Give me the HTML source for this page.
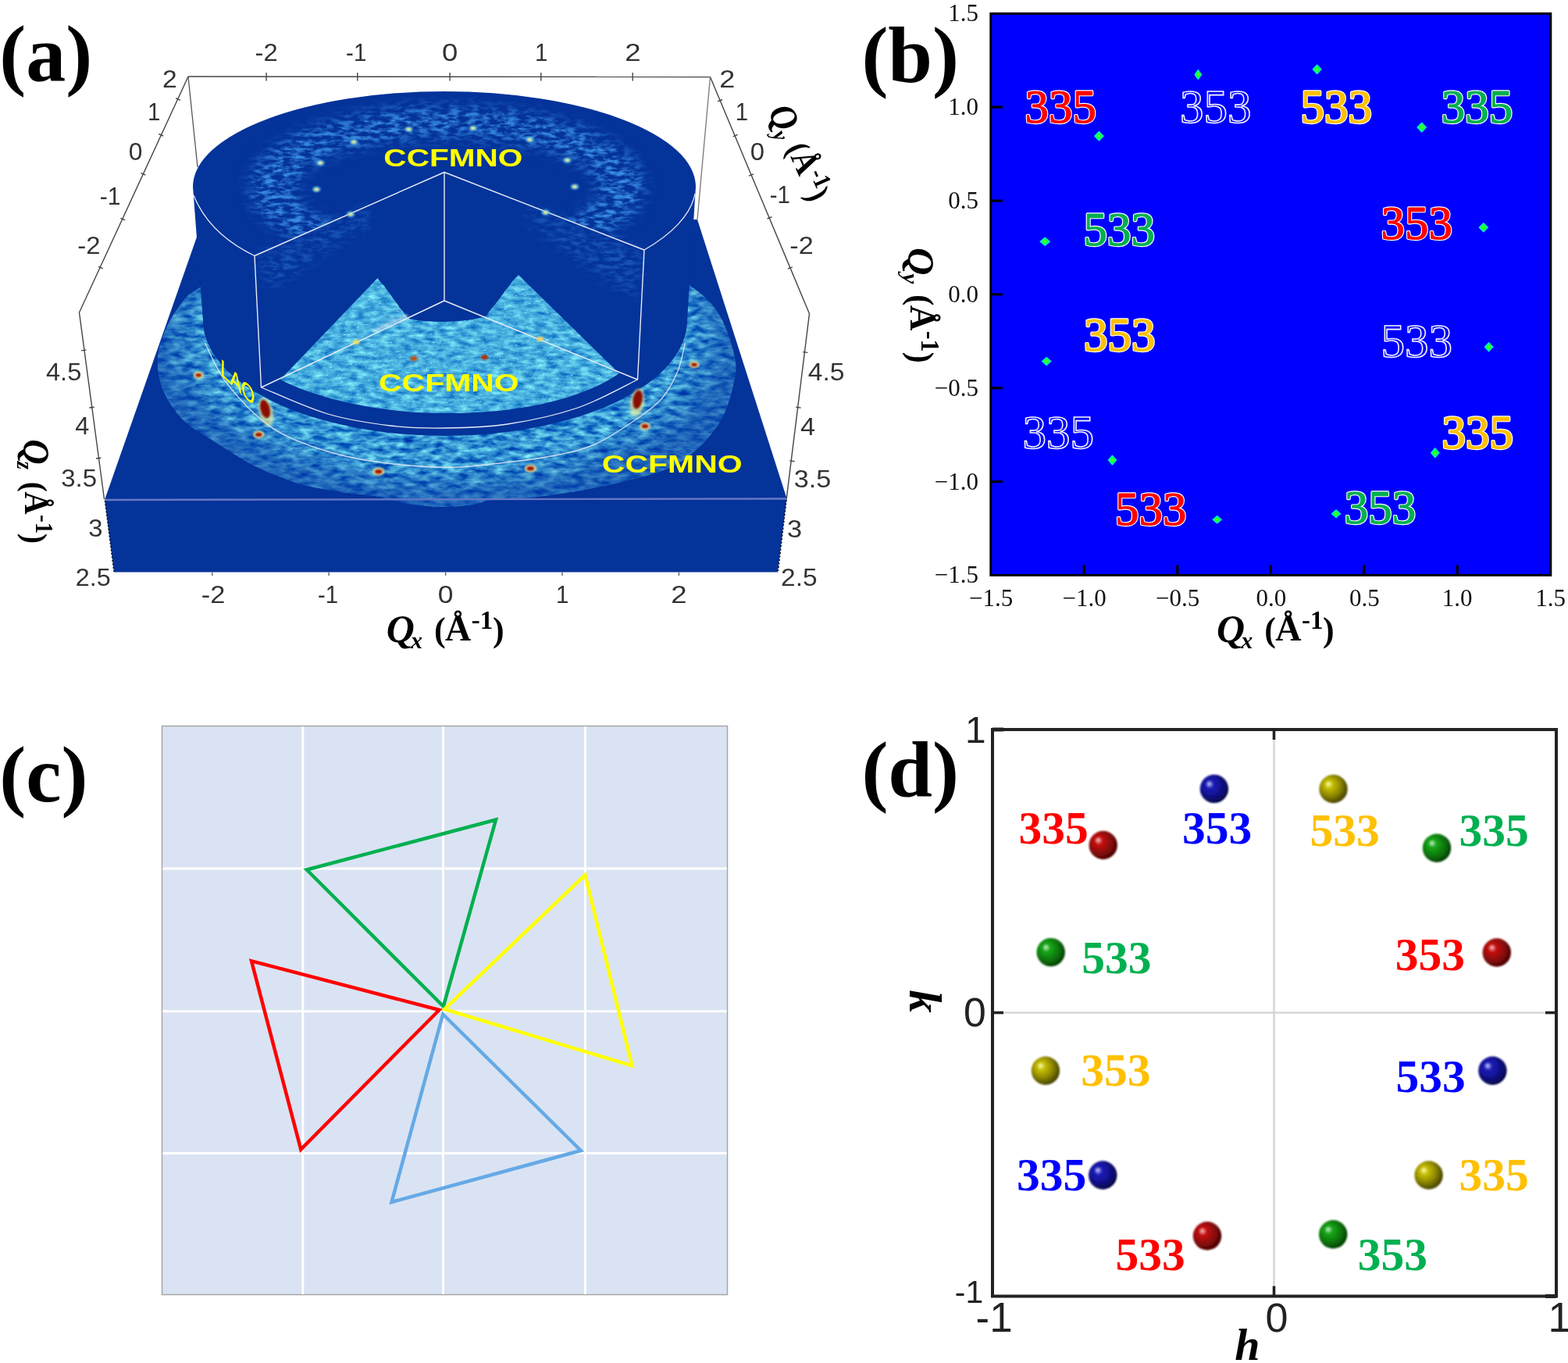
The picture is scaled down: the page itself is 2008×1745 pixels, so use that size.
<!DOCTYPE html>
<html><head><meta charset="utf-8"><title>Figure</title>
<style>html,body{margin:0;padding:0;background:#fff;overflow:hidden}svg{display:block}</style>
</head><body>
<svg width="2008" height="1745" viewBox="0 0 2008 1745">
<rect width="2008" height="1745" fill="#fff"/>
<defs>
<filter id="ringTex" filterUnits="userSpaceOnUse" x="0" y="0" width="1100" height="800" color-interpolation-filters="sRGB">
 <feTurbulence type="fractalNoise" baseFrequency="0.06 0.15" numOctaves="3" seed="7" result="n"/>
 <feColorMatrix in="n" type="matrix" values="0.9 0 0 0 -0.24  1.1 0 0 0 0.03  0.45 0 0 0 0.6  0 0 0 0 1" result="c"/>
 <feComposite in="c" in2="SourceGraphic" operator="in"/>
</filter>
<filter id="fanTex" filterUnits="userSpaceOnUse" x="0" y="0" width="1100" height="800" color-interpolation-filters="sRGB">
 <feTurbulence type="fractalNoise" baseFrequency="0.07 0.18" numOctaves="3" seed="3" result="n"/>
 <feColorMatrix in="n" type="matrix" values="0.65 0 0 0 -0.05  0.7 0 0 0 0.33  0.3 0 0 0 0.72  0 0 0 0 1" result="c"/>
 <feTurbulence type="fractalNoise" baseFrequency="0.35 0.6" numOctaves="1" seed="5" result="n2"/>
 <feColorMatrix in="n2" type="matrix" values="0 0 0 0 0.85  0 0 0 0 0.95  0 0 0 0 1  7 0 0 0 -4.75" result="w0"/><feGaussianBlur in="w0" stdDeviation="0.6" result="w"/>
 <feMerge result="m"><feMergeNode in="c"/><feMergeNode in="w"/></feMerge>
 <feComposite in="m" in2="SourceGraphic" operator="in"/>
</filter>
<filter id="topTex" filterUnits="userSpaceOnUse" x="0" y="0" width="1100" height="800" color-interpolation-filters="sRGB">
 <feTurbulence type="fractalNoise" baseFrequency="0.08 0.2" numOctaves="3" seed="11" result="n"/>
 <feColorMatrix in="n" type="matrix" values="0 0 0 0 0.22  0 0 0 0 0.55  0 0 0 0 0.88  3.0 0 0 0 -1.15" result="c"/>
 <feGaussianBlur in="SourceGraphic" stdDeviation="9" result="m"/>
 <feComposite in="c" in2="m" operator="in"/>
</filter>
<filter id="sblur" x="-50%" y="-50%" width="200%" height="200%"><feGaussianBlur stdDeviation="0.9"/></filter>
<filter id="sblur2" x="-50%" y="-50%" width="200%" height="200%"><feGaussianBlur stdDeviation="1.6"/></filter>
</defs>
<path d="M134,640 L1007.5,638 L996,732.5 L146,732.5 Z" fill="#04339a"/>
<path d="M134,640 L252.5,302 L893,281 L1007.5,638 Z" fill="#04339a"/>
<path d="M134.5,641 L146,732" stroke="#111" stroke-width="1.6" stroke-dasharray="2 2.5" fill="none"/>
<path d="M1007,640 L996.5,731" stroke="#111" stroke-width="1.6" stroke-dasharray="2 2.5" fill="none"/>
<path d="M570.0,290.0 C613.3,290.0 661.7,292.3 700.0,297.0 C738.3,301.7 769.0,306.3 800.0,318.0 C831.0,329.7 865.8,353.1 886.0,367.4 C906.2,381.6 912.1,388.4 921.3,403.5 C930.5,418.6 938.1,443.3 941.0,458.3 C943.9,473.3 941.7,480.2 938.8,493.4 C935.9,506.5 931.5,523.3 923.5,537.2 C915.5,551.1 903.4,565.7 890.6,576.7 C877.8,587.7 868.7,595.0 846.8,603.0 C824.9,611.0 788.3,619.1 759.1,624.9 C729.9,630.7 693.0,635.5 671.5,638.0 C650.0,640.5 641.1,638.7 630.0,640.0 C618.9,641.3 615.0,644.5 605.0,646.0 C595.0,647.5 582.5,649.0 570.0,649.0 C557.5,649.0 541.7,647.5 530.0,646.0 C518.3,644.5 508.3,641.8 500.0,640.0 C491.7,638.2 490.6,636.7 480.0,635.0 C469.4,633.3 453.1,632.4 436.7,629.7 C420.3,627.0 400.0,624.2 381.7,618.7 C363.4,613.2 344.5,605.6 326.7,596.7 C308.9,587.8 290.3,575.3 275.0,565.5 C259.7,555.7 246.0,549.0 235.0,538.0 C224.0,527.0 214.5,512.7 209.0,499.5 C203.5,486.3 201.3,472.2 202.0,459.0 C202.7,445.8 207.5,432.3 213.0,420.0 C218.5,407.7 227.8,393.7 235.0,385.0 C242.2,376.3 240.2,378.5 256.0,368.0 C271.8,357.5 299.3,333.8 330.0,322.0 C360.7,310.2 400.0,302.3 440.0,297.0 C480.0,291.7 526.7,290.0 570.0,290.0Z" fill="#3c9ad6" filter="url(#ringTex)"/>
<radialGradient id="ringShade" gradientUnits="userSpaceOnUse" cx="570" cy="430" r="375" gradientTransform="translate(570,430) scale(1,0.55) translate(-570,-430)"><stop offset="0.80" stop-color="#0a3ca4" stop-opacity="0"/><stop offset="1" stop-color="#0a3ca4" stop-opacity="0.55"/></radialGradient>
<path d="M570.0,290.0 C613.3,290.0 661.7,292.3 700.0,297.0 C738.3,301.7 769.0,306.3 800.0,318.0 C831.0,329.7 865.8,353.1 886.0,367.4 C906.2,381.6 912.1,388.4 921.3,403.5 C930.5,418.6 938.1,443.3 941.0,458.3 C943.9,473.3 941.7,480.2 938.8,493.4 C935.9,506.5 931.5,523.3 923.5,537.2 C915.5,551.1 903.4,565.7 890.6,576.7 C877.8,587.7 868.7,595.0 846.8,603.0 C824.9,611.0 788.3,619.1 759.1,624.9 C729.9,630.7 693.0,635.5 671.5,638.0 C650.0,640.5 641.1,638.7 630.0,640.0 C618.9,641.3 615.0,644.5 605.0,646.0 C595.0,647.5 582.5,649.0 570.0,649.0 C557.5,649.0 541.7,647.5 530.0,646.0 C518.3,644.5 508.3,641.8 500.0,640.0 C491.7,638.2 490.6,636.7 480.0,635.0 C469.4,633.3 453.1,632.4 436.7,629.7 C420.3,627.0 400.0,624.2 381.7,618.7 C363.4,613.2 344.5,605.6 326.7,596.7 C308.9,587.8 290.3,575.3 275.0,565.5 C259.7,555.7 246.0,549.0 235.0,538.0 C224.0,527.0 214.5,512.7 209.0,499.5 C203.5,486.3 201.3,472.2 202.0,459.0 C202.7,445.8 207.5,432.3 213.0,420.0 C218.5,407.7 227.8,393.7 235.0,385.0 C242.2,376.3 240.2,378.5 256.0,368.0 C271.8,357.5 299.3,333.8 330.0,322.0 C360.7,310.2 400.0,302.3 440.0,297.0 C480.0,291.7 526.7,290.0 570.0,290.0Z" fill="url(#ringShade)"/>
<path d="M247,239 A322,122 0 0 1 891,239 L880,410 A310,148 0 0 1 260,410 Z" fill="#04339a"/>
<clipPath id="topclip"><path d="M247,239 A322,122 0 0 1 891,239 A322,134 0 0 1 825,320 L569,220.5 L326,327.5 A322,134 0 0 1 247,239 Z"/></clipPath>
<g clip-path="url(#topclip)"><path d="M319,240 A253,104 0 1 1 825,240 A253,104 0 1 1 319,240 Z M378,242 A194,66 0 1 0 766,242 A194,66 0 1 0 378,242 Z" fill-rule="evenodd" fill="#fff" filter="url(#topTex)"/></g>
<path d="M328,328 L470,265 L478,282 L345,372 Z" fill="#fff" filter="url(#topTex)" opacity="0.4"/>
<path d="M823,321 L680,265 L672,282 L812,385 Z" fill="#fff" filter="url(#topTex)" opacity="0.4"/>
<path d="M359,486 L483.5,356 L488,362 L492,366 L496,372 L500,377 L504,383 L508,388 L512,394 L517,400 L522,407 C540,414 600,414 623,404 L627,398 L632,392 L637,386 L642,379 L647,372 L652,366 L657,359 L664,352 L793,478 C740,515 650,530 569,529 C490,529 410,512 359,486 Z" fill="#3c9ad6" filter="url(#fanTex)"/>
<path d="M478,424 L522,404" stroke="#e8fbff" stroke-width="5" opacity="0.55" filter="url(#sblur2)"/>
<path d="M569,220.5 L326,327.5 M569,220.5 L825,320 M569,220.5 L569,385 M326,327.5 L334.5,496 M825,320 L816.5,486 M569,385 L334.5,496 M569,385 L816.5,486" stroke="#e8ecf5" fill="none" stroke-width="1.4"/>
<path d="M248,250 C262,285 290,310 326,327.5" stroke="#e8ecf5" fill="none" stroke-width="1.3"/>
<path d="M825,320 C860,300 885,275 890,248" stroke="#e8ecf5" fill="none" stroke-width="1.3"/>
<path d="M334.5,496.0 C348.8,501.7 392.4,521.8 420.0,530.0 C447.6,538.2 475.2,542.0 500.0,545.0 C524.8,548.0 544.0,548.3 569.0,548.0 C594.0,547.7 621.5,547.3 650.0,543.0 C678.5,538.7 712.2,531.5 740.0,522.0 C767.8,512.5 803.8,492.0 816.5,486.0" stroke="#e8ecf5" fill="none" stroke-width="1.3"/>
<path d="M262.5,439.0 C267.1,447.5 276.2,472.3 290.0,490.0 C303.8,507.7 325.0,531.2 345.0,545.4 C365.0,559.6 387.5,567.4 410.0,575.0 C432.5,582.6 453.5,587.1 480.0,591.0 C506.5,594.9 544.4,598.0 569.0,598.5 C593.6,599.0 605.8,596.5 627.6,594.2 C649.4,592.0 678.1,589.0 700.0,585.0 C721.9,581.0 740.7,577.5 759.0,570.0 C777.3,562.5 795.4,549.8 810.0,540.0 C824.6,530.2 837.1,521.8 846.8,511.0 C856.5,500.2 862.9,487.1 868.0,475.0 C873.1,462.9 875.9,444.7 877.5,438.6" stroke="#e8ecf5" fill="none" stroke-width="1.4" opacity="0.85"/>
<line x1="134" y1="640" x2="1007.5" y2="638.5" stroke="#6878c4" stroke-width="2.4"/>
<ellipse cx="453" cy="181.7" rx="5.5" ry="3.8" fill="#50b8f0" opacity="0.75" filter="url(#sblur)"/>
<ellipse cx="453" cy="181.7" rx="3" ry="2" fill="#f6f090" filter="url(#sblur)"/>
<ellipse cx="410.3" cy="208.6" rx="5.5" ry="3.8" fill="#50b8f0" opacity="0.75" filter="url(#sblur)"/>
<ellipse cx="410.3" cy="208.6" rx="3" ry="2" fill="#f6f090" filter="url(#sblur)"/>
<ellipse cx="405.3" cy="242.4" rx="5.5" ry="3.8" fill="#50b8f0" opacity="0.75" filter="url(#sblur)"/>
<ellipse cx="405.3" cy="242.4" rx="3" ry="2" fill="#f6f090" filter="url(#sblur)"/>
<ellipse cx="449" cy="274.3" rx="5.5" ry="3.8" fill="#50b8f0" opacity="0.75" filter="url(#sblur)"/>
<ellipse cx="449" cy="274.3" rx="3" ry="2" fill="#f6f090" filter="url(#sblur)"/>
<ellipse cx="523.5" cy="165.5" rx="5.5" ry="3.8" fill="#50b8f0" opacity="0.75" filter="url(#sblur)"/>
<ellipse cx="523.5" cy="165.5" rx="3" ry="2" fill="#f6f090" filter="url(#sblur)"/>
<ellipse cx="605.8" cy="164" rx="5.5" ry="3.8" fill="#50b8f0" opacity="0.75" filter="url(#sblur)"/>
<ellipse cx="605.8" cy="164" rx="3" ry="2" fill="#f6f090" filter="url(#sblur)"/>
<ellipse cx="678.4" cy="178.7" rx="5.5" ry="3.8" fill="#50b8f0" opacity="0.75" filter="url(#sblur)"/>
<ellipse cx="678.4" cy="178.7" rx="3" ry="2" fill="#f6f090" filter="url(#sblur)"/>
<ellipse cx="726.5" cy="205" rx="5.5" ry="3.8" fill="#50b8f0" opacity="0.75" filter="url(#sblur)"/>
<ellipse cx="726.5" cy="205" rx="3" ry="2" fill="#f6f090" filter="url(#sblur)"/>
<ellipse cx="736" cy="239" rx="5.5" ry="3.8" fill="#50b8f0" opacity="0.75" filter="url(#sblur)"/>
<ellipse cx="736" cy="239" rx="3" ry="2" fill="#f6f090" filter="url(#sblur)"/>
<ellipse cx="698.7" cy="272" rx="5.5" ry="3.8" fill="#50b8f0" opacity="0.75" filter="url(#sblur)"/>
<ellipse cx="698.7" cy="272" rx="3" ry="2" fill="#f6f090" filter="url(#sblur)"/>
<ellipse cx="530" cy="458.9" rx="4.5" ry="3" fill="#c05010" filter="url(#sblur)"/>
<ellipse cx="620.5" cy="457.5" rx="4.5" ry="3" fill="#b03000" filter="url(#sblur)"/>
<ellipse cx="456" cy="438" rx="4.5" ry="3" fill="#f0e070" filter="url(#sblur)"/>
<ellipse cx="691.7" cy="434" rx="4.5" ry="3" fill="#f0d070" filter="url(#sblur)"/>
<ellipse cx="254.3" cy="480.3" rx="6.5" ry="4.5" fill="#f4e890" opacity="0.9" filter="url(#sblur)"/>
<ellipse cx="254.3" cy="480.3" rx="4.0" ry="2.4" fill="#a01400" filter="url(#sblur)"/>
<ellipse cx="331.3" cy="556.4" rx="7.0" ry="4.8" fill="#f4e890" opacity="0.9" filter="url(#sblur)"/>
<ellipse cx="331.3" cy="556.4" rx="4.4" ry="2.6" fill="#a01400" filter="url(#sblur)"/>
<ellipse cx="889" cy="466.9" rx="6.5" ry="4.5" fill="#f4e890" opacity="0.9" filter="url(#sblur)"/>
<ellipse cx="889" cy="466.9" rx="4.0" ry="2.4" fill="#a01400" filter="url(#sblur)"/>
<ellipse cx="826" cy="545.7" rx="7.0" ry="4.8" fill="#f4e890" opacity="0.9" filter="url(#sblur)"/>
<ellipse cx="826" cy="545.7" rx="4.4" ry="2.6" fill="#a01400" filter="url(#sblur)"/>
<ellipse cx="484.8" cy="603.7" rx="7.5" ry="5.0" fill="#f4e890" opacity="0.9" filter="url(#sblur)"/>
<ellipse cx="484.8" cy="603.7" rx="4.8" ry="2.8" fill="#a01400" filter="url(#sblur)"/>
<ellipse cx="679.3" cy="599.8" rx="7.5" ry="5.0" fill="#f4e890" opacity="0.9" filter="url(#sblur)"/>
<ellipse cx="679.3" cy="599.8" rx="4.8" ry="2.8" fill="#a01400" filter="url(#sblur)"/>
<ellipse cx="339.5" cy="527.4" rx="9" ry="18" transform="rotate(-15 339.5 523.4)" fill="#e8f0a0" opacity="0.7" filter="url(#sblur2)"/>
<ellipse cx="339.5" cy="523.4" rx="6" ry="12" transform="rotate(-15 339.5 523.4)" fill="#8a0a00" filter="url(#sblur)"/>
<ellipse cx="816.6" cy="515.6" rx="9" ry="18" transform="rotate(10 816.6 511.6)" fill="#e8f0a0" opacity="0.7" filter="url(#sblur2)"/>
<ellipse cx="816.6" cy="511.6" rx="6" ry="12" transform="rotate(10 816.6 511.6)" fill="#8a0a00" filter="url(#sblur)"/>
<text transform="translate(493.0,212.7) scale(1.264,1)" x="-1.3" y="0" font-family='"Liberation Sans", Arial, sans-serif' font-size="32.1" font-weight="bold" fill="#ffff00">CCFMNO</text>
<text transform="translate(486.7,500.7) scale(1.276,1)" x="-1.3" y="0" font-family='"Liberation Sans", Arial, sans-serif' font-size="32.1" font-weight="bold" fill="#ffff00">CCFMNO</text>
<text transform="translate(772.5,605.0) scale(1.302,1)" x="-1.3" y="0" font-family='"Liberation Sans", Arial, sans-serif' font-size="31.5" font-weight="bold" fill="#ffff00">CCFMNO</text>
<text transform="matrix(0.73,0.686,0,1,282.5,479.5)" x="0" y="0" font-family='"Liberation Sans", Arial, sans-serif' font-size="30" fill="#ffff00" stroke="#ffff00" stroke-width="0.4">LAO</text>
<path d="M241,98 L909.5,98.5" stroke="#444" stroke-width="1.4" fill="none"/>
<path d="M241,98 L101.5,400 L133.5,639" stroke="#444" stroke-width="1.4" fill="none"/>
<path d="M909.5,98.5 L1036.5,401.5 L1007.2,638.3" stroke="#444" stroke-width="1.4" fill="none"/>
<path d="M241,98 L253,214" stroke="#555" stroke-width="1.3" fill="none"/>
<path d="M909.5,98.5 L893,281" stroke="#777" stroke-width="1.3" fill="none"/>
<line x1="341.1" y1="93" x2="341.1" y2="103.5" stroke="#444" stroke-width="1.4" fill="none"/>
<line x1="457.8" y1="93" x2="457.8" y2="103.5" stroke="#444" stroke-width="1.4" fill="none"/>
<line x1="576.1" y1="93" x2="576.1" y2="103.5" stroke="#444" stroke-width="1.4" fill="none"/>
<line x1="692.8" y1="93" x2="692.8" y2="103.5" stroke="#444" stroke-width="1.4" fill="none"/>
<line x1="810.2" y1="93" x2="810.2" y2="103.5" stroke="#444" stroke-width="1.4" fill="none"/>
<line x1="230.9" y1="128.3" x2="225.1" y2="125.7" stroke="#444" stroke-width="1.4" fill="none"/>
<line x1="209.2" y1="174.1" x2="203.4" y2="171.5" stroke="#444" stroke-width="1.4" fill="none"/>
<line x1="186.3" y1="224.2" x2="180.5" y2="221.6" stroke="#444" stroke-width="1.4" fill="none"/>
<line x1="160.2" y1="281.9" x2="154.4" y2="279.3" stroke="#444" stroke-width="1.4" fill="none"/>
<line x1="131.9" y1="343.9" x2="126.1" y2="341.3" stroke="#444" stroke-width="1.4" fill="none"/>
<line x1="110.4" y1="448.1" x2="104.0" y2="448.9" stroke="#444" stroke-width="1.4" fill="none"/>
<line x1="120.7" y1="521.2" x2="114.3" y2="522.0" stroke="#444" stroke-width="1.4" fill="none"/>
<line x1="129.4" y1="586.2" x2="123.0" y2="587.0" stroke="#444" stroke-width="1.4" fill="none"/>
<line x1="925.0" y1="127.5" x2="919.0" y2="129.9" stroke="#444" stroke-width="1.4" fill="none"/>
<line x1="944.7" y1="172.4" x2="938.7" y2="174.8" stroke="#444" stroke-width="1.4" fill="none"/>
<line x1="965.0" y1="222.8" x2="959.0" y2="225.2" stroke="#444" stroke-width="1.4" fill="none"/>
<line x1="988.5" y1="277.6" x2="982.5" y2="280.0" stroke="#444" stroke-width="1.4" fill="none"/>
<line x1="1014.8" y1="341.8" x2="1008.8" y2="344.2" stroke="#444" stroke-width="1.4" fill="none"/>
<line x1="1034.4" y1="451.4" x2="1028.0" y2="450.6" stroke="#444" stroke-width="1.4" fill="none"/>
<line x1="1025.7" y1="522.1" x2="1019.3" y2="521.3" stroke="#444" stroke-width="1.4" fill="none"/>
<line x1="1017.6" y1="590.7" x2="1011.2" y2="589.9" stroke="#444" stroke-width="1.4" fill="none"/>
<line x1="271.8" y1="732.5" x2="271.8" y2="737" stroke="#666" stroke-width="1.4"/>
<line x1="421.2" y1="732.5" x2="421.2" y2="737" stroke="#666" stroke-width="1.4"/>
<line x1="570.6" y1="732.5" x2="570.6" y2="737" stroke="#666" stroke-width="1.4"/>
<line x1="720" y1="732.5" x2="720" y2="737" stroke="#666" stroke-width="1.4"/>
<line x1="869.4" y1="732.5" x2="869.4" y2="737" stroke="#666" stroke-width="1.4"/>
<text transform="translate(341.0,77.8) scale(1.056,1)" x="-13.7" y="0" font-family='"Liberation Sans", Arial, sans-serif' font-size="31" fill="#333">-2</text>
<text transform="translate(456.1,77.8) scale(0.950,1)" x="-13.7" y="0" font-family='"Liberation Sans", Arial, sans-serif' font-size="31" fill="#333">-1</text>
<text transform="translate(576.1,77.5) scale(1.180,1)" x="-8.6" y="0" font-family='"Liberation Sans", Arial, sans-serif' font-size="31" fill="#333">0</text>
<text transform="translate(693.6,77.8) scale(0.950,1)" x="-9.0" y="0" font-family='"Liberation Sans", Arial, sans-serif' font-size="31" fill="#333">1</text>
<text transform="translate(810.3,77.8) scale(1.180,1)" x="-8.6" y="0" font-family='"Liberation Sans", Arial, sans-serif' font-size="31" fill="#333">2</text>
<text transform="translate(217.2,112.0) scale(1.083,1)" x="-8.6" y="0" font-family='"Liberation Sans", Arial, sans-serif' font-size="31" fill="#333">2</text>
<text transform="translate(197.5,154.3) scale(0.950,1)" x="-9.0" y="0" font-family='"Liberation Sans", Arial, sans-serif' font-size="31" fill="#333">1</text>
<text transform="translate(173.6,205.2) scale(1.026,1)" x="-8.6" y="0" font-family='"Liberation Sans", Arial, sans-serif' font-size="31" fill="#333">0</text>
<text transform="translate(141.0,262.0) scale(0.973,1)" x="-13.7" y="0" font-family='"Liberation Sans", Arial, sans-serif' font-size="31" fill="#333">-1</text>
<text transform="translate(113.8,325.0) scale(1.060,1)" x="-13.7" y="0" font-family='"Liberation Sans", Arial, sans-serif' font-size="31" fill="#333">-2</text>
<text transform="translate(931.2,112.3) scale(1.161,1)" x="-8.6" y="0" font-family='"Liberation Sans", Arial, sans-serif' font-size="31" fill="#333">2</text>
<text transform="translate(950.4,154.0) scale(0.950,1)" x="-9.0" y="0" font-family='"Liberation Sans", Arial, sans-serif' font-size="31" fill="#333">1</text>
<text transform="translate(969.9,204.5) scale(1.059,1)" x="-8.6" y="0" font-family='"Liberation Sans", Arial, sans-serif' font-size="31" fill="#333">0</text>
<text transform="translate(998.8,260.3) scale(0.950,1)" x="-13.7" y="0" font-family='"Liberation Sans", Arial, sans-serif' font-size="31" fill="#333">-1</text>
<text transform="translate(1026.4,324.6) scale(1.104,1)" x="-13.7" y="0" font-family='"Liberation Sans", Arial, sans-serif' font-size="31" fill="#333">-2</text>
<text transform="translate(81.4,487.3) scale(1.052,1)" x="-21.3" y="0" font-family='"Liberation Sans", Arial, sans-serif' font-size="31" fill="#333">4.5</text>
<text transform="translate(105.2,555.7) scale(1.050,1)" x="-8.5" y="0" font-family='"Liberation Sans", Arial, sans-serif' font-size="31" fill="#333">4</text>
<text transform="translate(101.1,623.4) scale(1.066,1)" x="-21.5" y="0" font-family='"Liberation Sans", Arial, sans-serif' font-size="31" fill="#333">3.5</text>
<text transform="translate(122.2,687.3) scale(1.061,1)" x="-8.5" y="0" font-family='"Liberation Sans", Arial, sans-serif' font-size="31" fill="#333">3</text>
<text transform="translate(119.5,750.2) scale(1.044,1)" x="-21.7" y="0" font-family='"Liberation Sans", Arial, sans-serif' font-size="31" fill="#333">2.5</text>
<text transform="translate(1057.8,486.7) scale(1.088,1)" x="-21.3" y="0" font-family='"Liberation Sans", Arial, sans-serif' font-size="31" fill="#333">4.5</text>
<text transform="translate(1034.3,556.6) scale(1.107,1)" x="-8.5" y="0" font-family='"Liberation Sans", Arial, sans-serif' font-size="31" fill="#333">4</text>
<text transform="translate(1040.4,623.7) scale(1.103,1)" x="-21.5" y="0" font-family='"Liberation Sans", Arial, sans-serif' font-size="31" fill="#333">3.5</text>
<text transform="translate(1017.5,688.0) scale(1.109,1)" x="-8.5" y="0" font-family='"Liberation Sans", Arial, sans-serif' font-size="31" fill="#333">3</text>
<text transform="translate(1023.5,750.1) scale(1.081,1)" x="-21.7" y="0" font-family='"Liberation Sans", Arial, sans-serif' font-size="31" fill="#333">2.5</text>
<text transform="translate(273.0,772.2) scale(1.109,1)" x="-13.7" y="0" font-family='"Liberation Sans", Arial, sans-serif' font-size="31" fill="#333">-2</text>
<text transform="translate(420.0,772.2) scale(0.950,1)" x="-13.7" y="0" font-family='"Liberation Sans", Arial, sans-serif' font-size="31" fill="#333">-1</text>
<text transform="translate(570.5,771.9) scale(1.147,1)" x="-8.6" y="0" font-family='"Liberation Sans", Arial, sans-serif' font-size="31" fill="#333">0</text>
<text transform="translate(720.5,772.2) scale(0.950,1)" x="-9.0" y="0" font-family='"Liberation Sans", Arial, sans-serif' font-size="31" fill="#333">1</text>
<text transform="translate(869.5,772.2) scale(1.180,1)" x="-8.6" y="0" font-family='"Liberation Sans", Arial, sans-serif' font-size="31" fill="#333">2</text>
<g transform="translate(496.6,789.3) rotate(0) scale(1,1) translate(-496.6,-789.3)"><text x="494.8" y="822.4" font-family='"Liberation Serif", "Times New Roman", serif' font-size="50" font-weight="bold" font-style="italic" fill="#000" >Q</text><text x="526.1" y="830" font-family='"Liberation Serif", "Times New Roman", serif' font-size="30" font-weight="bold" font-style="italic">x</text><text x="556.1" y="820.5" font-family='"Liberation Serif", "Times New Roman", serif' font-size="44" font-weight="bold" fill="#000" >(</text><text x="570.1" y="819.7" font-family='"Liberation Serif", "Times New Roman", serif' font-size="46" font-weight="bold" fill="#000" >Å</text><text x="603.8" y="805.2" font-family='"Liberation Serif", "Times New Roman", serif' font-size="33" font-weight="bold" fill="#000" >-1</text><text x="630.9" y="820.5" font-family='"Liberation Serif", "Times New Roman", serif' font-size="44" font-weight="bold" fill="#000" >)</text></g>
<g transform="translate(61.4,564.2) rotate(90) scale(0.885,0.96) translate(-496.6,-789.3)"><text x="494.8" y="822.4" font-family='"Liberation Serif", "Times New Roman", serif' font-size="50" font-weight="bold" font-style="italic" fill="#000" >Q</text><text x="526.5" y="830" font-family='"Liberation Serif", "Times New Roman", serif' font-size="30" font-weight="bold" font-style="italic">z</text><text x="556.1" y="820.5" font-family='"Liberation Serif", "Times New Roman", serif' font-size="44" font-weight="bold" fill="#000" >(</text><text x="570.1" y="819.7" font-family='"Liberation Serif", "Times New Roman", serif' font-size="46" font-weight="bold" fill="#000" >Å</text><text x="603.8" y="805.2" font-family='"Liberation Serif", "Times New Roman", serif' font-size="33" font-weight="bold" fill="#000" >-1</text><text x="630.9" y="820.5" font-family='"Liberation Serif", "Times New Roman", serif' font-size="44" font-weight="bold" fill="#000" >)</text></g>
<g transform="translate(1013.0,131.0) rotate(66) scale(0.86,0.96) translate(-496.6,-789.3)"><text x="494.8" y="822.4" font-family='"Liberation Serif", "Times New Roman", serif' font-size="50" font-weight="bold" font-style="italic" fill="#000" >Q</text><text x="528.7" y="830" font-family='"Liberation Serif", "Times New Roman", serif' font-size="30" font-weight="bold" font-style="italic">y</text><text x="556.1" y="820.5" font-family='"Liberation Serif", "Times New Roman", serif' font-size="44" font-weight="bold" fill="#000" >(</text><text x="570.1" y="819.7" font-family='"Liberation Serif", "Times New Roman", serif' font-size="46" font-weight="bold" fill="#000" >Å</text><text x="603.8" y="805.2" font-family='"Liberation Serif", "Times New Roman", serif' font-size="33" font-weight="bold" fill="#000" >-1</text><text x="630.9" y="820.5" font-family='"Liberation Serif", "Times New Roman", serif' font-size="44" font-weight="bold" fill="#000" >)</text></g>
<text x="-0.7" y="103.3" font-family='"Liberation Serif", "Times New Roman", serif' font-size="102" font-weight="bold" fill="#000" >(a)</text>
<defs><radialGradient id="dg" cx="50%" cy="50%" r="50%"><stop offset="0" stop-color="#80ff00"/><stop offset="0.3" stop-color="#20ff28"/><stop offset="0.6" stop-color="#00ff90"/><stop offset="0.85" stop-color="#00e8f0"/><stop offset="1" stop-color="#00a8ff"/></radialGradient><filter id="dblur" x="-50%" y="-50%" width="200%" height="200%"><feGaussianBlur stdDeviation="0.7"/></filter></defs>
<rect x="1268.8" y="17.4" width="717.0" height="719.0" fill="#0000ff"/>
<path d="M1400.9,174.2 L1407.4,167.4 L1413.9,174.2 L1407.4,181.0Z" fill="url(#dg)" filter="url(#dblur)"/>
<path d="M1529.3,95.5 L1534.3,88.5 L1539.3,95.5 L1534.3,102.5Z" fill="url(#dg)" filter="url(#dblur)"/>
<path d="M1680.3,88.8 L1686.6,82.2 L1692.9,88.8 L1686.6,95.4Z" fill="url(#dg)" filter="url(#dblur)"/>
<path d="M1814.2,163.1 L1820.7,156.3 L1827.2,163.1 L1820.7,169.9Z" fill="url(#dg)" filter="url(#dblur)"/>
<path d="M1331.2,309.2 L1338.2,303.2 L1345.2,309.2 L1338.2,315.2Z" fill="url(#dg)" filter="url(#dblur)"/>
<path d="M1893.3,291.2 L1899.8,284.7 L1906.3,291.2 L1899.8,297.7Z" fill="url(#dg)" filter="url(#dblur)"/>
<path d="M1333.7,462.6 L1340.2,456.8 L1346.7,462.6 L1340.2,468.4Z" fill="url(#dg)" filter="url(#dblur)"/>
<path d="M1900.6,444.2 L1906.6,437.7 L1912.6,444.2 L1906.6,450.7Z" fill="url(#dg)" filter="url(#dblur)"/>
<path d="M1418.5,589.1 L1424.5,582.3 L1430.5,589.1 L1424.5,595.9Z" fill="url(#dg)" filter="url(#dblur)"/>
<path d="M1831.8,579.8 L1837.8,572.8 L1843.8,579.8 L1837.8,586.8Z" fill="url(#dg)" filter="url(#dblur)"/>
<path d="M1552.2,665.3 L1558.7,659.8 L1565.2,665.3 L1558.7,670.8Z" fill="url(#dg)" filter="url(#dblur)"/>
<path d="M1704.5,657.8 L1711.0,652.0 L1717.5,657.8 L1711.0,663.6Z" fill="url(#dg)" filter="url(#dblur)"/>
<text x="1312.4" y="156.9" font-family='"Liberation Serif", "Times New Roman", serif' font-size="61" fill="#fff" stroke="#fff" stroke-width="3.4" stroke-linejoin="round">335</text>
<text x="1312.4" y="156.9" font-family='"Liberation Serif", "Times New Roman", serif' font-size="61" fill="#ff0000" stroke="#ff0000" stroke-width="1.1" stroke-linejoin="round">335</text>
<text x="1510.9" y="157.1" font-family='"Liberation Serif", "Times New Roman", serif' font-size="61" fill="#0000ff" stroke="#f4f4ff" stroke-width="1.6">353</text>
<text x="1665.6" y="156.8" font-family='"Liberation Serif", "Times New Roman", serif' font-size="61" fill="#fff" stroke="#fff" stroke-width="3.4" stroke-linejoin="round">533</text>
<text x="1665.6" y="156.8" font-family='"Liberation Serif", "Times New Roman", serif' font-size="61" fill="#ffc000" stroke="#ffc000" stroke-width="1.1" stroke-linejoin="round">533</text>
<text x="1845.8" y="156.8" font-family='"Liberation Serif", "Times New Roman", serif' font-size="61" fill="#fff" stroke="#fff" stroke-width="3.4" stroke-linejoin="round">335</text>
<text x="1845.8" y="156.8" font-family='"Liberation Serif", "Times New Roman", serif' font-size="61" fill="#00b050" stroke="#00b050" stroke-width="1.1" stroke-linejoin="round">335</text>
<text x="1387.4" y="314.1" font-family='"Liberation Serif", "Times New Roman", serif' font-size="61" fill="#fff" stroke="#fff" stroke-width="3.4" stroke-linejoin="round">533</text>
<text x="1387.4" y="314.1" font-family='"Liberation Serif", "Times New Roman", serif' font-size="61" fill="#00b050" stroke="#00b050" stroke-width="1.1" stroke-linejoin="round">533</text>
<text x="1768.5" y="306.4" font-family='"Liberation Serif", "Times New Roman", serif' font-size="61" fill="#fff" stroke="#fff" stroke-width="3.4" stroke-linejoin="round">353</text>
<text x="1768.5" y="306.4" font-family='"Liberation Serif", "Times New Roman", serif' font-size="61" fill="#ff0000" stroke="#ff0000" stroke-width="1.1" stroke-linejoin="round">353</text>
<text x="1388.0" y="448.6" font-family='"Liberation Serif", "Times New Roman", serif' font-size="61" fill="#fff" stroke="#fff" stroke-width="3.4" stroke-linejoin="round">353</text>
<text x="1388.0" y="448.6" font-family='"Liberation Serif", "Times New Roman", serif' font-size="61" fill="#ffc000" stroke="#ffc000" stroke-width="1.1" stroke-linejoin="round">353</text>
<text x="1768.6" y="456.8" font-family='"Liberation Serif", "Times New Roman", serif' font-size="61" fill="#0000ff" stroke="#f4f4ff" stroke-width="1.6">533</text>
<text x="1309.4" y="573.9" font-family='"Liberation Serif", "Times New Roman", serif' font-size="61" fill="#0000ff" stroke="#f4f4ff" stroke-width="1.6">335</text>
<text x="1846.4" y="574.1" font-family='"Liberation Serif", "Times New Roman", serif' font-size="61" fill="#fff" stroke="#fff" stroke-width="3.4" stroke-linejoin="round">335</text>
<text x="1846.4" y="574.1" font-family='"Liberation Serif", "Times New Roman", serif' font-size="61" fill="#ffc000" stroke="#ffc000" stroke-width="1.1" stroke-linejoin="round">335</text>
<text x="1428.0" y="671.8" font-family='"Liberation Serif", "Times New Roman", serif' font-size="61" fill="#fff" stroke="#fff" stroke-width="3.4" stroke-linejoin="round">533</text>
<text x="1428.0" y="671.8" font-family='"Liberation Serif", "Times New Roman", serif' font-size="61" fill="#ff0000" stroke="#ff0000" stroke-width="1.1" stroke-linejoin="round">533</text>
<text x="1721.8" y="670.4" font-family='"Liberation Serif", "Times New Roman", serif' font-size="61" fill="#fff" stroke="#fff" stroke-width="3.4" stroke-linejoin="round">353</text>
<text x="1721.8" y="670.4" font-family='"Liberation Serif", "Times New Roman", serif' font-size="61" fill="#00b050" stroke="#00b050" stroke-width="1.1" stroke-linejoin="round">353</text>
<rect x="1268.8" y="17.4" width="717.0" height="719.0" fill="none" stroke="#000" stroke-width="3"/>
<line x1="1268.8" y1="616.6" x2="1283.8" y2="616.6" stroke="#000" stroke-width="3.2"/>
<line x1="1388.3" y1="736.4" x2="1388.3" y2="723.4" stroke="#000" stroke-width="3.2"/>
<line x1="1268.8" y1="496.7" x2="1283.8" y2="496.7" stroke="#000" stroke-width="3.2"/>
<line x1="1507.8" y1="736.4" x2="1507.8" y2="723.4" stroke="#000" stroke-width="3.2"/>
<line x1="1268.8" y1="376.9" x2="1283.8" y2="376.9" stroke="#000" stroke-width="3.2"/>
<line x1="1627.3" y1="736.4" x2="1627.3" y2="723.4" stroke="#000" stroke-width="3.2"/>
<line x1="1268.8" y1="257.1" x2="1283.8" y2="257.1" stroke="#000" stroke-width="3.2"/>
<line x1="1746.8" y1="736.4" x2="1746.8" y2="723.4" stroke="#000" stroke-width="3.2"/>
<line x1="1268.8" y1="137.2" x2="1283.8" y2="137.2" stroke="#000" stroke-width="3.2"/>
<line x1="1866.3" y1="736.4" x2="1866.3" y2="723.4" stroke="#000" stroke-width="3.2"/>
<text x="1196.8" y="746.3" font-family='"Liberation Serif", "Times New Roman", serif' font-size="31" fill="#111" >−1.5</text>
<text x="1241.0" y="776.3" font-family='"Liberation Serif", "Times New Roman", serif' font-size="31" fill="#111" >−1.5</text>
<text x="1196.7" y="626.6" font-family='"Liberation Serif", "Times New Roman", serif' font-size="31" fill="#111" >−1.0</text>
<text x="1360.5" y="776.4" font-family='"Liberation Serif", "Times New Roman", serif' font-size="31" fill="#111" >−1.0</text>
<text x="1196.8" y="506.7" font-family='"Liberation Serif", "Times New Roman", serif' font-size="31" fill="#111" >−0.5</text>
<text x="1480.0" y="776.4" font-family='"Liberation Serif", "Times New Roman", serif' font-size="31" fill="#111" >−0.5</text>
<text x="1214.2" y="386.9" font-family='"Liberation Serif", "Times New Roman", serif' font-size="31" fill="#111" >0.0</text>
<text x="1608.4" y="776.4" font-family='"Liberation Serif", "Times New Roman", serif' font-size="31" fill="#111" >0.0</text>
<text x="1214.3" y="267.1" font-family='"Liberation Serif", "Times New Roman", serif' font-size="31" fill="#111" >0.5</text>
<text x="1727.9" y="776.4" font-family='"Liberation Serif", "Times New Roman", serif' font-size="31" fill="#111" >0.5</text>
<text x="1214.2" y="147.2" font-family='"Liberation Serif", "Times New Roman", serif' font-size="31" fill="#111" >1.0</text>
<text x="1846.7" y="776.4" font-family='"Liberation Serif", "Times New Roman", serif' font-size="31" fill="#111" >1.0</text>
<text x="1214.3" y="27.3" font-family='"Liberation Serif", "Times New Roman", serif' font-size="31" fill="#111" >1.5</text>
<text x="1966.2" y="776.3" font-family='"Liberation Serif", "Times New Roman", serif' font-size="31" fill="#111" >1.5</text>
<text x="1103.4" y="105.1" font-family='"Liberation Serif", "Times New Roman", serif' font-size="102" font-weight="bold" fill="#000" >(b)</text>
<g transform="translate(1559.8,789.4) rotate(0) scale(1,1) translate(-496.6,-789.3)"><text x="494.8" y="822.4" font-family='"Liberation Serif", "Times New Roman", serif' font-size="50" font-weight="bold" font-style="italic" fill="#000" >Q</text><text x="526.1" y="830" font-family='"Liberation Serif", "Times New Roman", serif' font-size="30" font-weight="bold" font-style="italic">x</text><text x="556.1" y="820.5" font-family='"Liberation Serif", "Times New Roman", serif' font-size="44" font-weight="bold" fill="#000" >(</text><text x="570.1" y="819.7" font-family='"Liberation Serif", "Times New Roman", serif' font-size="46" font-weight="bold" fill="#000" >Å</text><text x="603.8" y="805.2" font-family='"Liberation Serif", "Times New Roman", serif' font-size="33" font-weight="bold" fill="#000" >-1</text><text x="630.9" y="820.5" font-family='"Liberation Serif", "Times New Roman", serif' font-size="44" font-weight="bold" fill="#000" >)</text></g>
<g transform="translate(1196.0,318.8) rotate(90) scale(0.98,0.99) translate(-496.6,-789.3)"><text x="494.8" y="822.4" font-family='"Liberation Serif", "Times New Roman", serif' font-size="50" font-weight="bold" font-style="italic" fill="#000" >Q</text><text x="528.7" y="830" font-family='"Liberation Serif", "Times New Roman", serif' font-size="30" font-weight="bold" font-style="italic">y</text><text x="556.1" y="820.5" font-family='"Liberation Serif", "Times New Roman", serif' font-size="44" font-weight="bold" fill="#000" >(</text><text x="570.1" y="819.7" font-family='"Liberation Serif", "Times New Roman", serif' font-size="46" font-weight="bold" fill="#000" >Å</text><text x="603.8" y="805.2" font-family='"Liberation Serif", "Times New Roman", serif' font-size="33" font-weight="bold" fill="#000" >-1</text><text x="630.9" y="820.5" font-family='"Liberation Serif", "Times New Roman", serif' font-size="44" font-weight="bold" fill="#000" >)</text></g>
<g id="pc">
<rect x="207.5" y="929.5" width="724" height="728" fill="#dae3f3" stroke="#a6a6a6" stroke-width="1.5"/>
<line x1="387.8" y1="930.3" x2="387.8" y2="1657" stroke="#fff" stroke-width="3"/>
<line x1="567.5" y1="930.3" x2="567.5" y2="1657" stroke="#fff" stroke-width="3"/>
<line x1="749.5" y1="930.3" x2="749.5" y2="1657" stroke="#fff" stroke-width="3"/>
<line x1="208.3" y1="1112.1" x2="930.7" y2="1112.1" stroke="#fff" stroke-width="3"/>
<line x1="208.3" y1="1294.7" x2="930.7" y2="1294.7" stroke="#fff" stroke-width="3"/>
<line x1="208.3" y1="1476.6" x2="930.7" y2="1476.6" stroke="#fff" stroke-width="3"/>
<path d="M635.0,1049.5 L392.8,1113.5 L567.8,1288.5Z" fill="none" stroke="#00b050" stroke-width="4.5" stroke-linejoin="miter" stroke-miterlimit="10"/>
<path d="M749.3,1120.0 L809.5,1364.5 L569.2,1292.0Z" fill="none" stroke="#ffff00" stroke-width="4.5" stroke-linejoin="miter" stroke-miterlimit="10"/>
<path d="M322.0,1230.3 L385.3,1471.5 L562.5,1293.0Z" fill="none" stroke="#ff0000" stroke-width="4.5" stroke-linejoin="miter" stroke-miterlimit="10"/>
<path d="M501.5,1539.0 L743.8,1473.0 L567.2,1298.5Z" fill="none" stroke="#64a9e6" stroke-width="4.5" stroke-linejoin="miter" stroke-miterlimit="10"/>
</g>
<text x="-0.7" y="1025.8" font-family='"Liberation Serif", "Times New Roman", serif' font-size="102" font-weight="bold" fill="#000" >(c)</text>
<defs><radialGradient id="spr" cx="0.42" cy="0.42" r="0.62" fx="0.32" fy="0.32"><stop offset="0" stop-color="#f6caca"/><stop offset="0.22" stop-color="#c81010"/><stop offset="0.62" stop-color="#8a0c0c"/><stop offset="1" stop-color="#420000"/></radialGradient><radialGradient id="spb" cx="0.42" cy="0.42" r="0.62" fx="0.32" fy="0.32"><stop offset="0" stop-color="#d0d0ff"/><stop offset="0.22" stop-color="#1c1cb8"/><stop offset="0.62" stop-color="#10108a"/><stop offset="1" stop-color="#02023c"/></radialGradient><radialGradient id="spg" cx="0.42" cy="0.42" r="0.62" fx="0.32" fy="0.32"><stop offset="0" stop-color="#d0f5d0"/><stop offset="0.22" stop-color="#18a818"/><stop offset="0.62" stop-color="#0c780c"/><stop offset="1" stop-color="#023a02"/></radialGradient><radialGradient id="spy" cx="0.42" cy="0.42" r="0.62" fx="0.32" fy="0.32"><stop offset="0" stop-color="#ffffc0"/><stop offset="0.22" stop-color="#c8c000"/><stop offset="0.62" stop-color="#8a8400"/><stop offset="1" stop-color="#3c3a00"/></radialGradient><filter id="spblur" x="-20%" y="-20%" width="140%" height="140%"><feGaussianBlur stdDeviation="0.9"/></filter></defs>
<line x1="1631.5" y1="934.0" x2="1631.5" y2="1659.5" stroke="#d6d6d6" stroke-width="2.6"/>
<line x1="1271.0" y1="1296.5" x2="1993.0" y2="1296.5" stroke="#d6d6d6" stroke-width="2.6"/>
<rect x="1271.0" y="934.0" width="722.0" height="725.5" fill="none" stroke="#222" stroke-width="4"/>
<line x1="1631.5" y1="934.0" x2="1631.5" y2="947.0" stroke="#222" stroke-width="3.6"/><line x1="1631.5" y1="1659.5" x2="1631.5" y2="1646.5" stroke="#222" stroke-width="3.6"/>
<line x1="1271.0" y1="1296.5" x2="1285.0" y2="1296.5" stroke="#222" stroke-width="3.6"/><line x1="1993.0" y1="1296.5" x2="1979.0" y2="1296.5" stroke="#222" stroke-width="3.6"/>
<line x1="1271.0" y1="934.0" x2="1285.0" y2="934.0" stroke="#222" stroke-width="5"/>
<line x1="1993.0" y1="1659.5" x2="1979.0" y2="1659.5" stroke="#222" stroke-width="5"/>
<circle cx="1412.7" cy="1082" r="18.2" fill="url(#spr)" filter="url(#spblur)"/>
<circle cx="1554.9" cy="1009.9" r="18.2" fill="url(#spb)" filter="url(#spblur)"/>
<circle cx="1707.5" cy="1010" r="18.2" fill="url(#spy)" filter="url(#spblur)"/>
<circle cx="1840" cy="1085.7" r="18.2" fill="url(#spg)" filter="url(#spblur)"/>
<circle cx="1345.7" cy="1219.1" r="18.2" fill="url(#spg)" filter="url(#spblur)"/>
<circle cx="1916.8" cy="1219.5" r="18.2" fill="url(#spr)" filter="url(#spblur)"/>
<circle cx="1338.9" cy="1370.7" r="18.2" fill="url(#spy)" filter="url(#spblur)"/>
<circle cx="1911.4" cy="1370.7" r="18.2" fill="url(#spb)" filter="url(#spblur)"/>
<circle cx="1412.2" cy="1504.5" r="18.2" fill="url(#spb)" filter="url(#spblur)"/>
<circle cx="1829.6" cy="1504.5" r="18.2" fill="url(#spy)" filter="url(#spblur)"/>
<circle cx="1546" cy="1582.3" r="18.2" fill="url(#spr)" filter="url(#spblur)"/>
<circle cx="1707.2" cy="1580.3" r="18.2" fill="url(#spg)" filter="url(#spblur)"/>
<text x="1304.6" y="1080.4" font-family='"Liberation Serif", "Times New Roman", serif' font-size="59.5" font-weight="bold" fill="#ff0000" >335</text>
<text x="1514.1" y="1080.4" font-family='"Liberation Serif", "Times New Roman", serif' font-size="59.5" font-weight="bold" fill="#0000ff" >353</text>
<text x="1677.5" y="1083.0" font-family='"Liberation Serif", "Times New Roman", serif' font-size="59.5" font-weight="bold" fill="#ffc000" >533</text>
<text x="1868.5" y="1083.0" font-family='"Liberation Serif", "Times New Roman", serif' font-size="59.5" font-weight="bold" fill="#00b050" >335</text>
<text x="1385.2" y="1246.2" font-family='"Liberation Serif", "Times New Roman", serif' font-size="59.5" font-weight="bold" fill="#00b050" >533</text>
<text x="1786.8" y="1241.6" font-family='"Liberation Serif", "Times New Roman", serif' font-size="59.5" font-weight="bold" fill="#ff0000" >353</text>
<text x="1384.3" y="1390.3" font-family='"Liberation Serif", "Times New Roman", serif' font-size="59.5" font-weight="bold" fill="#ffc000" >353</text>
<text x="1787.6" y="1397.7" font-family='"Liberation Serif", "Times New Roman", serif' font-size="59.5" font-weight="bold" fill="#0000ff" >533</text>
<text x="1302.0" y="1524.1" font-family='"Liberation Serif", "Times New Roman", serif' font-size="59.5" font-weight="bold" fill="#0000ff" >335</text>
<text x="1868.5" y="1524.1" font-family='"Liberation Serif", "Times New Roman", serif' font-size="59.5" font-weight="bold" fill="#ffc000" >335</text>
<text x="1428.6" y="1625.7" font-family='"Liberation Serif", "Times New Roman", serif' font-size="59.5" font-weight="bold" fill="#ff0000" >533</text>
<text x="1738.7" y="1625.7" font-family='"Liberation Serif", "Times New Roman", serif' font-size="59.5" font-weight="bold" fill="#00b050" >353</text>
<text x="1235.9" y="950.7" font-family='"Liberation Sans", Arial, sans-serif' font-size="47.8" fill="#222" >1</text>
<text x="1233.9" y="1313.7" font-family='"Liberation Sans", Arial, sans-serif' font-size="51.7" fill="#222" >0</text>
<text x="1222.8" y="1667.6" font-family='"Liberation Sans", Arial, sans-serif' font-size="40.8" fill="#222" >-1</text>
<text x="1249.6" y="1705.4" font-family='"Liberation Sans", Arial, sans-serif' font-size="52.9" fill="#222" >-1</text>
<text x="1620.5" y="1705.4" font-family='"Liberation Sans", Arial, sans-serif' font-size="52.1" fill="#222" >0</text>
<text x="1982.5" y="1705.4" font-family='"Liberation Sans", Arial, sans-serif' font-size="52.9" fill="#222" >1</text>
<text x="1581.2" y="1740.5" font-family='"Liberation Serif", "Times New Roman", serif' font-size="58" font-weight="bold" font-style="italic" fill="#000" >h</text>
<text transform="translate(1165.3,1267.5) rotate(90)" x="0" y="0" font-family='"Liberation Serif", "Times New Roman", serif' font-size="58.5" font-weight="bold" font-style="italic">k</text>
<text x="1103.4" y="1019.6" font-family='"Liberation Serif", "Times New Roman", serif' font-size="102" font-weight="bold" fill="#000" >(d)</text>
</svg>
</body></html>
